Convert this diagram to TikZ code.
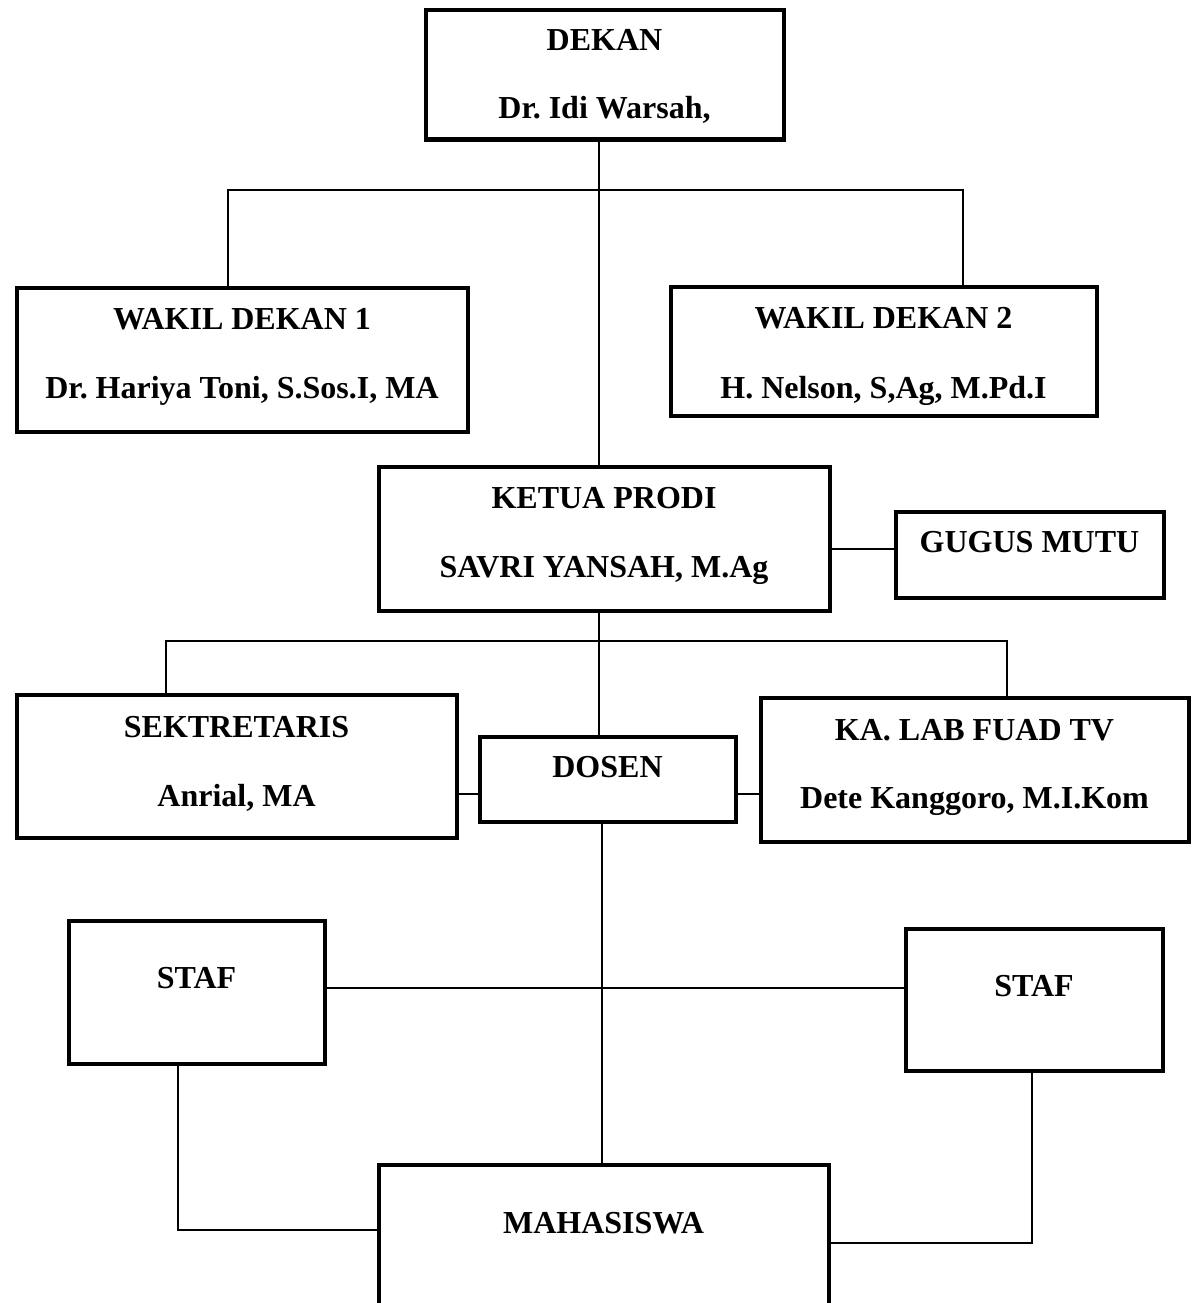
\documentclass[tikz,border=0pt]{standalone}
\usepackage{fontspec}
\setmainfont{Liberation Serif}
\frenchspacing
\tikzset{
  orgbox/.style={draw=black, line width=4pt, fill=white, rectangle, inner sep=0pt, outer sep=0pt},
  orgtxt/.style={anchor=base, inner sep=0pt, font=\bfseries\fontsize{32}{38}\selectfont},
  conn/.style={draw=black, line width=1.5pt}
}
\begin{document}
\begin{tikzpicture}[x=1pt,y=-1pt]
\useasboundingbox (0,0) rectangle (1192,1303);
\clip (0,0) rectangle (1192,1303);
\fill[white] (0,0) rectangle (1192,1303);

% boxes
\node[orgbox, minimum width=358pt, minimum height=129pt] (dekan) at (604.5,75) {};
\node[orgbox, minimum width=451pt, minimum height=144pt] (wd1) at (242,359.5) {};
\node[orgbox, minimum width=426pt, minimum height=129pt] (wd2) at (883.5,351) {};
\node[orgbox, minimum width=451pt, minimum height=144pt] (ketua) at (604,538.5) {};
\node[orgbox, minimum width=268pt, minimum height=86pt] (gugus) at (1029.5,554.5) {};
\node[orgbox, minimum width=440pt, minimum height=143pt] (sek) at (236.5,766) {};
\node[orgbox, minimum width=256pt, minimum height=85pt] (dosen) at (607.5,779) {};
\node[orgbox, minimum width=428pt, minimum height=144pt] (kalab) at (974.5,769.5) {};
\node[orgbox, minimum width=256pt, minimum height=143pt] (stafl) at (196.5,992) {};
\node[orgbox, minimum width=257pt, minimum height=142pt] (stafr) at (1034,999.5) {};
\node[orgbox, minimum width=450pt, minimum height=200pt] (maha) at (603.5,1264.5) {};

% texts
\node[orgtxt] (dekanA) at (604.5,51) {DEKAN};
\node[orgtxt] (dekanB) at (604.5,118) {Dr. Idi Warsah,};
\node[orgtxt] (wd1A) at (242,329) {WAKIL DEKAN 1};
\node[orgtxt] (wd1B) at (242,398) {Dr. Hariya Toni, S.Sos.I, MA};
\node[orgtxt] (wd2A) at (883.5,328) {WAKIL DEKAN 2};
\node[orgtxt] (wd2B) at (883.5,398) {H. Nelson, S,Ag, M.Pd.I};
\node[orgtxt] (ketuaA) at (604,508) {KETUA PRODI};
\node[orgtxt] (ketuaB) at (604,577) {SAVRI YANSAH, M.Ag};
\node[orgtxt] (gugusA) at (1029.5,552) {GUGUS MUTU};
\node[orgtxt] (sekA) at (236.5,737) {SEKTRETARIS};
\node[orgtxt] (sekB) at (236.5,806) {Anrial, MA};
\node[orgtxt] (dosenA) at (607.5,777) {DOSEN};
\node[orgtxt] (kalabA) at (974.5,740) {KA. LAB FUAD TV};
\node[orgtxt] (kalabB) at (974.5,808) {Dete Kanggoro, M.I.Kom};
\node[orgtxt] (staflA) at (196.5,988) {STAF};
\node[orgtxt] (stafrA) at (1034,996) {STAF};
\node[orgtxt] (mahaA) at (603.5,1233) {MAHASISWA};

% helper coordinates
\coordinate (tr1) at (599,0);
\coordinate (tr3) at (602,0);
\coordinate (b1l) at (228,190);
\coordinate (b1r) at (963,190);
\coordinate (b2l) at (166,641);
\coordinate (b2r) at (1007,641);
\coordinate (gy) at (0,549);
\coordinate (dy) at (0,794);
\coordinate (sy) at (0,988);
\coordinate (sl) at (178,1230);
\coordinate (sr) at (1032,1243);

% connectors
\draw[conn] (dekan.south -| tr1) -- (ketua.north -| tr1);
\draw[conn] (wd1.north -| b1l) -- (b1l) -- (b1r) -- (wd2.north -| b1r);
\draw[conn] (ketua.east |- gy) -- (gugus.west |- gy);
\draw[conn] (ketua.south -| tr1) -- (dosen.north -| tr1);
\draw[conn] (sek.north -| b2l) -- (b2l) -- (b2r) -- (kalab.north -| b2r);
\draw[conn] (sek.east |- dy) -- (dosen.west |- dy);
\draw[conn] (dosen.east |- dy) -- (kalab.west |- dy);
\draw[conn] (dosen.south -| tr3) -- (maha.north -| tr3);
\draw[conn] (stafl.east |- sy) -- (stafr.west |- sy);
\draw[conn] (stafl.south -| sl) -- (sl) -- (maha.west |- sl);
\draw[conn] (stafr.south -| sr) -- (sr) -- (maha.east |- sr);
\end{tikzpicture}
\end{document}
